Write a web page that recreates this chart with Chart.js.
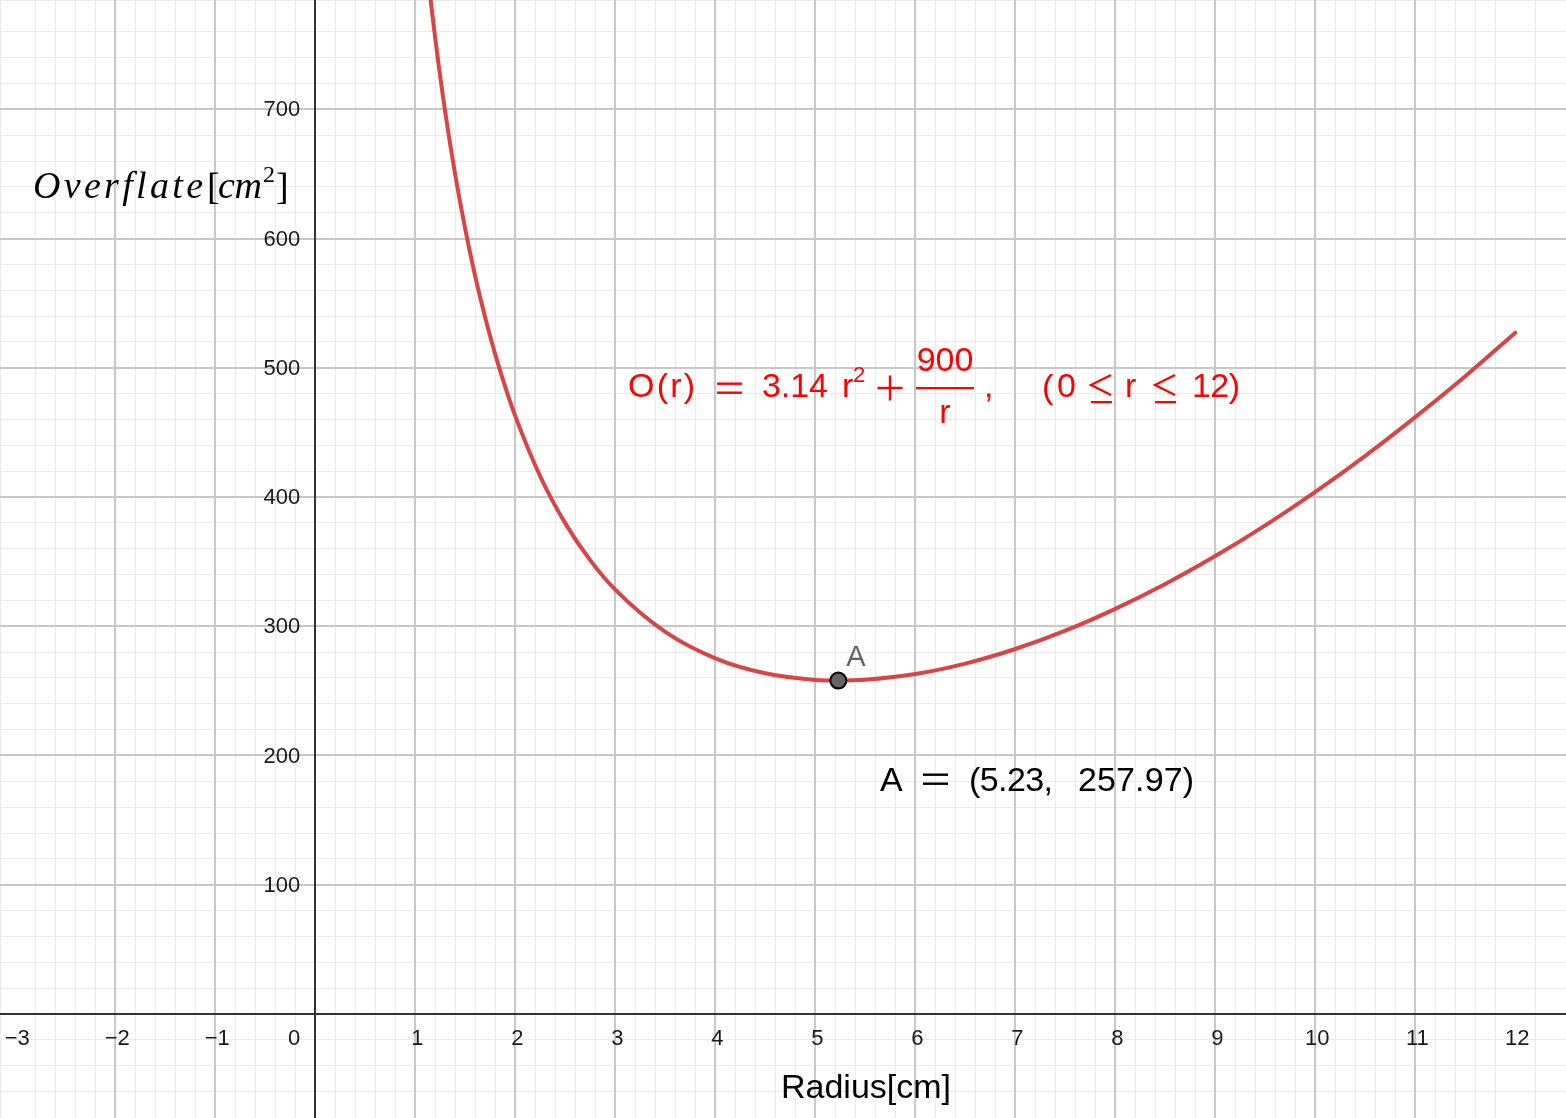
<!DOCTYPE html>
<html><head><meta charset="utf-8">
<script src="https://cdn.jsdelivr.net/npm/chart.js@4/dist/chart.umd.min.js"></script>
<style>html,body{margin:0;padding:0;background:#fff;overflow:hidden}canvas{display:block}</style>
</head><body>
<canvas id="c" width="1566" height="1118"></canvas>
<script>
// ---- data ----
const radius = [1.1, 1.15, 1.2, 1.3, 1.4, 1.5, 1.6, 1.7, 1.8, 1.9, 2.0, 2.25, 2.5, 2.75, 3.0, 3.5, 4.0, 4.5, 5.0, 5.23, 5.5, 6.0, 6.5, 7.0, 7.5, 8.0, 8.5, 9.0, 9.5, 10.0, 10.5, 11.0, 11.5, 12.0];
const overflate = [822.0, 786.8, 754.5, 697.6, 649.0, 607.1, 570.5, 538.5, 510.2, 485.0, 462.6, 415.9, 379.6, 351.0, 328.3, 295.6, 275.2, 263.6, 258.5, 258.0, 258.6, 263.0, 271.1, 282.4, 296.6, 313.5, 332.7, 354.3, 378.1, 404.0, 431.9, 461.8, 493.5, 527.2];
const pointAX = [5.23];
const pointAY = [257.97];
const xTickValues = [-3, -2, -1, 0, 1, 2, 3, 4, 5, 6, 7, 8, 9, 10, 11, 12];
const xTickLabels = ['\u22123', '\u22122', '\u22121', '0', '1', '2', '3', '4', '5', '6', '7', '8', '9', '10', '11', '12'];
const yTickValues = [100, 200, 300, 400, 500, 600, 700];
const yTickLabels = ['100', '200', '300', '400', '500', '600', '700'];
const xTitle = 'Radius[cm]';
const yTitleMain = 'Overflate';
const pointLabel = 'A';
const pointText = ['A', '(5.23,', '257.97)'];

const X_MIN = -3.153, X_MAX = 12.507, Y_MIN = -80.5, Y_MAX = 784.6;

const isMult = (v, s) => Math.abs(v / s - Math.round(v / s)) < 1e-6;

function drawSpaced(ctx, s, x, y, target) {
  const chars = [...s];
  const ws = chars.map(c => ctx.measureText(c).width);
  const W = ws.reduce((a, b) => a + b, 0);
  const extra = chars.length > 1 ? (target - W) / (chars.length - 1) : 0;
  let cx = x;
  chars.forEach((c, i) => { ctx.fillText(c, cx, y); cx += ws[i] + extra; });
}
function eq(ctx, x, cy, w) {           // "=" sign
  ctx.fillRect(x, cy - 5.5, w, 2.4);
  ctx.fillRect(x, cy + 3.5, w, 2.4);
}
function plus(ctx, cx, cy, s) {        // "+" sign
  ctx.fillRect(cx - s, cy - 1.2, 2 * s, 2.4);
  ctx.fillRect(cx - 1.2, cy - s, 2.4, 2 * s);
}
function leq(ctx, x, cy, color) {      // "≤" sign
  ctx.save();
  ctx.strokeStyle = color;
  ctx.lineWidth = 2.3;
  ctx.lineJoin = 'miter';
  ctx.beginPath();
  ctx.moveTo(x + 21, cy - 13);
  ctx.lineTo(x + 1, cy - 3);
  ctx.lineTo(x + 21, cy + 7);
  ctx.stroke();
  ctx.restore();
  ctx.fillRect(x + 1, cy + 13, 21, 2.3);
}

const overlay = {
  id: 'overlay',
  beforeDatasetsDraw(chart) {
    const ctx = chart.ctx, xs = chart.scales.x, ys = chart.scales.y;
    ctx.save();
    ctx.strokeStyle = '#333333';
    ctx.lineWidth = 2;
    const x0 = Math.round(xs.getPixelForValue(0)), y0 = Math.round(ys.getPixelForValue(0));
    ctx.beginPath();
    ctx.moveTo(0, y0); ctx.lineTo(chart.width, y0);
    ctx.moveTo(x0, 0); ctx.lineTo(x0, chart.height);
    ctx.stroke();
    ctx.restore();
  },
  afterDraw(chart) {
    const ctx = chart.ctx, xs = chart.scales.x, ys = chart.scales.y;
    const x0 = xs.getPixelForValue(0), y0 = ys.getPixelForValue(0);
    ctx.save();
    // tick labels
    ctx.fillStyle = '#1a1a1a';
    ctx.font = '22px "Liberation Sans", Arial, sans-serif';
    ctx.textBaseline = 'middle';
    ctx.textAlign = 'center';
    xTickValues.forEach((v, i) => {
      const px = xs.getPixelForValue(v);
      if (v === 0) { ctx.textAlign = 'right'; ctx.fillText(xTickLabels[i], px - 15, y0 + 25); ctx.textAlign = 'center'; }
      else ctx.fillText(xTickLabels[i], px + 2, y0 + 25);
    });
    ctx.textAlign = 'right';
    yTickValues.forEach((v, i) => {
      ctx.fillText(yTickLabels[i], x0 - 15, ys.getPixelForValue(v) + 1);
    });

    // axis titles
    ctx.textBaseline = 'alphabetic';
    ctx.textAlign = 'left';
    ctx.fillStyle = '#000';
    ctx.font = '34px "Liberation Sans", Arial, sans-serif';
    drawSpaced(ctx, xTitle, 781, 1098, 170);

    ctx.font = 'italic 38px "Liberation Serif", "DejaVu Serif", serif';
    drawSpaced(ctx, yTitleMain, 33, 198, 170);
    ctx.font = '38px "Liberation Serif", serif';
    ctx.fillText('[', 207, 199);
    ctx.font = 'italic 38px "Liberation Serif", serif';
    drawSpaced(ctx, 'cm', 218, 198, 44);
    ctx.font = '24px "Liberation Serif", serif';
    ctx.fillText('2', 263, 182);
    ctx.font = '38px "Liberation Serif", serif';
    ctx.fillText(']', 276, 199);

    // point label
    const ax = xs.getPixelForValue(pointAX[0]), ay = ys.getPixelForValue(pointAY[0]);
    ctx.fillStyle = '#646464';
    ctx.font = '29px "Liberation Sans", Arial, sans-serif';
    ctx.fillText(pointLabel, ax + 8, ay - 15);

    // point coordinate text
    ctx.fillStyle = '#000';
    ctx.font = '34px "Liberation Sans", Arial, sans-serif';
    drawSpaced(ctx, pointText[0], 880, 791, 23);
    eq(ctx, 923, 779, 25);
    drawSpaced(ctx, pointText[1], 969, 791, 84);
    drawSpaced(ctx, pointText[2], 1078, 791, 116);

    // formula
    ctx.fillStyle = '#ff0000';
    const f = '34px "Liberation Sans", Arial, sans-serif';
    const base = 397, mid = 388;
    ctx.font = f;
    drawSpaced(ctx, 'O(r)', 628, base, 67);
    eq(ctx, 717, mid, 25);
    drawSpaced(ctx, '3.14', 762, base, 66);
    ctx.fillText('r', 842, base);
    ctx.font = '22px "Liberation Sans", Arial, sans-serif';
    ctx.fillText('2', 853, base - 15);
    plus(ctx, 890, mid, 12.5);
    ctx.font = f;
    ctx.textAlign = 'center';
    ctx.fillText('900', 945, 371);
    ctx.fillText('r', 945, 423);
    ctx.fillRect(916, 387, 58, 2.2);
    ctx.textAlign = 'left';
    ctx.fillText(',', 984, base);
    ctx.fillText('(', 1042, base + 1);
    ctx.fillText('0', 1057, base);
    leq(ctx, 1090, mid, '#ff0000');
    ctx.fillText('r', 1125, base);
    leq(ctx, 1154, mid, '#ff0000');
    drawSpaced(ctx, '12)', 1192, base, 48);
    ctx.restore();
  }
};

const hidden = { display: false };
new Chart(document.getElementById('c'), {
  type: 'scatter',
  data: {
    datasets: [
      {
        type: 'line',
        data: radius.map((r, i) => ({ x: r, y: overflate[i] })),
        borderColor: '#d84545',
        borderWidth: 4,
        borderCapStyle: 'round',
        pointRadius: 0,
        cubicInterpolationMode: 'monotone',
        fill: false,
        order: 2
      },
      {
        data: pointAX.map((x, i) => ({ x, y: pointAY[i] })),
        pointRadius: 8,
        pointBackgroundColor: '#646464',
        pointBorderColor: '#000000',
        pointBorderWidth: 2,
        order: 1
      }
    ]
  },
  options: {
    responsive: false,
    animation: false,
    devicePixelRatio: 1,
    layout: { padding: 0, autoPadding: false },
    plugins: { legend: hidden, tooltip: { enabled: false } },
    events: [],
    scales: {
      xm: {
        type: 'linear', axis: 'x', position: 'bottom', min: X_MIN, max: X_MAX,
        ticks: { display: false, stepSize: 0.2 },
        grid: { drawTicks: false, lineWidth: 1, color: c => isMult(c.tick.value, 1) ? 'rgba(0,0,0,0)' : '#ebebeb' },
        border: hidden
      },
      ym: {
        type: 'linear', axis: 'y', position: 'left', min: Y_MIN, max: Y_MAX,
        ticks: { display: false, stepSize: 20 },
        grid: { drawTicks: false, lineWidth: 1, color: c => isMult(c.tick.value, 100) ? 'rgba(0,0,0,0)' : '#ebebeb' },
        border: hidden
      },
      x: {
        type: 'linear', position: 'bottom', min: X_MIN, max: X_MAX,
        ticks: { display: false, stepSize: 1 },
        grid: { drawTicks: false, lineWidth: 2, color: c => (isMult(c.tick.value, 1) && Math.abs(c.tick.value) > 1e-9) ? '#c8c8c8' : 'rgba(0,0,0,0)' },
        border: hidden
      },
      y: {
        type: 'linear', position: 'left', min: Y_MIN, max: Y_MAX,
        ticks: { display: false, stepSize: 100 },
        grid: { drawTicks: false, lineWidth: 2, color: c => (isMult(c.tick.value, 100) && Math.abs(c.tick.value) > 1e-9) ? '#c8c8c8' : 'rgba(0,0,0,0)' },
        border: hidden
      }
    }
  },
  plugins: [overlay]
});
</script>
</body></html>
